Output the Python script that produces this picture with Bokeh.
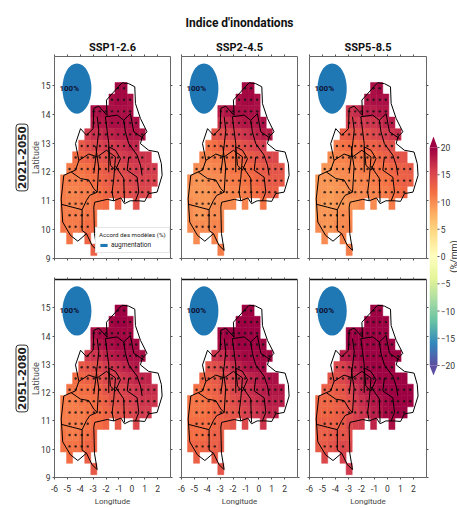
from bokeh.embed import file_html
from bokeh.resources import INLINE
from bokeh.plotting import figure
from bokeh.layouts import row, column
from bokeh.models import (LinearAxis, FixedTicker, Label, Legend, LegendItem, Title,
                          LinearColorMapper, ColumnDataSource)
from bokeh.core.properties import value
from bokeh.palettes import Spectral11, interp_palette
import numpy as np

NARROW = "Roboto"
_ = None
main_title = "Indice d'inondations"
scenarios = ["SSP1-2.6", "SSP2-4.5", "SSP5-8.5"]
periods = ["2021-2050", "2051-2080"]
x_ticks = [-6, -5, -4, -3, -2, -1, 0, 1, 2]
y_ticks = [9, 10, 11, 12, 13, 14, 15]
cb_ticks = [-20, -15, -10, -5, 0, 5, 10, 15, 20]

cell_lon = [-5.3, -4.83, -4.36, -3.89, -3.42, -2.95, -2.48, -2.01, -1.54, -1.07, -0.6, -0.13, 0.34, 0.81, 1.28, 1.75]
cell_lat = [14.9, 14.5, 14.1, 13.7, 13.3, 12.9, 12.5, 12.1, 11.7, 11.3, 10.9, 10.5, 10.1, 9.7, 9.3]

# rows run north to south, columns west to east
ssp126_2021 = [
 [_,_,_,_,_,_,_,_,_,19.5,19.5,_,_,_,_,_],
 [_,_,_,_,_,_,_,_,19,19.5,19.5,19,_,_,_,_],
 [_,_,_,_,_,19,19,19,19,19,19,19,_,_,_,_],
 [_,_,_,_,_,18,18.5,18.5,19,19,19,19,19,_,_,_],
 [_,_,_,_,16,17,17,17.5,17.5,18,18,18.5,18.5,18.5,_,_],
 [_,_,_,13.5,14.5,15,15.5,16,16,16.5,17,17.5,17.5,_,_,_],
 [_,_,12,12.5,13,13.5,14,14.5,15,15.5,16,16.5,16.5,16.5,16.5,_],
 [_,11,11.5,11.5,12,12.5,13,13.5,14,14.5,15,15.5,16,16,16,16],
 [11,11,11,11,11.5,12,12.5,13,13.5,14,14.5,15,15.5,15.5,15.5,15.5],
 [11,10.5,10.5,11,11,11.5,12,12.5,13,13.5,14,14.5,15,15,15,_],
 [11,10.5,10.5,11,11,11.5,11.5,12,_,13,_,_,14.5,_,_,_],
 [11,11,11,11,11.5,11.5,_,_,_,_,_,_,_,_,_,_],
 [11.5,11,11,11.5,12,12,_,_,_,_,_,_,_,_,_,_],
 [_,11.5,_,_,12.5,_,_,_,_,_,_,_,_,_,_,_],
 [_,_,_,_,_,13,_,_,_,_,_,_,_,_,_,_],
]
ssp245_2021 = [
 [_,_,_,_,_,_,_,_,_,19.5,19.5,_,_,_,_,_],
 [_,_,_,_,_,_,_,_,19,19.5,19.5,19,_,_,_,_],
 [_,_,_,_,_,18,18.5,19,19,19,19,19,_,_,_,_],
 [_,_,_,_,_,16.5,17,17.5,18,18.5,18.5,18.5,19,_,_,_],
 [_,_,_,_,14,14.5,15,15.5,16,16.5,17,17.5,18,18,_,_],
 [_,_,_,11.5,12,12.5,13,13.5,14,14.5,15,15.5,16,_,_,_],
 [_,_,10.5,10.5,11,11,11.5,12,12.5,13,13.5,14,14.5,15,15,_],
 [_,10,10,10,10.5,10.5,11,11.5,11.5,12,12.5,13,13.5,14,14,14],
 [10,9.5,9.5,10,10,10,10.5,11,11,11.5,12,12.5,13,13.5,13.5,13.5],
 [9.5,9.5,9.5,9.5,10,10,10,10.5,10.5,11,11.5,12,12.5,13,13,_],
 [10,9.5,9.5,9.5,10,10,10,10,_,10.5,_,_,11.5,_,_,_],
 [10,9.5,9.5,10,10,10,_,_,_,_,_,_,_,_,_,_],
 [10,10,10,10,10.5,10.5,_,_,_,_,_,_,_,_,_,_],
 [_,10,_,_,10.5,_,_,_,_,_,_,_,_,_,_,_],
 [_,_,_,_,_,11,_,_,_,_,_,_,_,_,_,_],
]
ssp585_2021 = [
 [_,_,_,_,_,_,_,_,_,19,19.5,_,_,_,_,_],
 [_,_,_,_,_,_,_,_,18.5,19,19,19,_,_,_,_],
 [_,_,_,_,_,16.5,17,17.5,18,18,18.5,18.5,_,_,_,_],
 [_,_,_,_,_,15.5,16,16,16.5,16.5,17,17.5,18,_,_,_],
 [_,_,_,_,13,13.5,14,14.5,14.5,15,15.5,16,16.5,17,_,_],
 [_,_,_,11,11.5,12,12,12.5,13,13,13.5,14,14.5,_,_,_],
 [_,_,10,10.5,10.5,11,11,11.5,11.5,12,12.5,13,13.5,14,14,_],
 [_,9.5,9.5,10,10,10.5,10.5,11,11,11.5,12,12,12.5,13,13,13.5],
 [9.5,9.5,9.5,9.5,10,10,10,10.5,10.5,11,11.5,11.5,12,12.5,13,13],
 [9.5,9.5,9,9.5,9.5,10,10,10,10.5,10.5,11,11,11.5,12,12.5,_],
 [9.5,9,9,9.5,9.5,9.5,9.5,10,_,10,_,_,11,_,_,_],
 [9.5,9.5,9.5,9.5,10,10,_,_,_,_,_,_,_,_,_,_],
 [10,9.5,9.5,10,10,10.5,_,_,_,_,_,_,_,_,_,_],
 [_,10,_,_,10.5,_,_,_,_,_,_,_,_,_,_,_],
 [_,_,_,_,_,11,_,_,_,_,_,_,_,_,_,_],
]
ssp126_2051 = [
 [_,_,_,_,_,_,_,_,_,20,20,_,_,_,_,_],
 [_,_,_,_,_,_,_,_,19.5,20,20,19.5,_,_,_,_],
 [_,_,_,_,_,19,19.5,19.5,19.5,19.5,19.5,19.5,_,_,_,_],
 [_,_,_,_,_,18,18.5,19,19,19.5,19.5,19.5,19.5,_,_,_],
 [_,_,_,_,16,16.5,17,17.5,18,18.5,19,19,19,19,_,_],
 [_,_,_,13.5,14,14.5,15,16,16.5,17,17.5,18,18.5,_,_,_],
 [_,_,12,12.5,13,13.5,14,15,15.5,16,16.5,17,17.5,17.5,17.5,_],
 [_,11.5,11.5,12,12,12.5,13,14,14.5,15,15.5,16,16.5,17,17,17],
 [11,11,11,11.5,11.5,12,12.5,13,14,14.5,15,15.5,16,16.5,16.5,16.5],
 [11,11,11,11,11.5,12,12,12.5,13,14,14.5,15,15.5,16,16,_],
 [11,11,11,11,11.5,12,12,12.5,_,13.5,_,_,15,_,_,_],
 [11.5,11,11,11.5,12,12.5,_,_,_,_,_,_,_,_,_,_],
 [11.5,11.5,11.5,12,12.5,12.5,_,_,_,_,_,_,_,_,_,_],
 [_,12,_,_,13,_,_,_,_,_,_,_,_,_,_,_],
 [_,_,_,_,_,13.5,_,_,_,_,_,_,_,_,_,_],
]
ssp245_2051 = [
 [_,_,_,_,_,_,_,_,_,20,20,_,_,_,_,_],
 [_,_,_,_,_,_,_,_,20,20,20,20,_,_,_,_],
 [_,_,_,_,_,19.5,20,20,20,20,20,20,_,_,_,_],
 [_,_,_,_,_,19,19.5,19.5,20,20,20,20,20,_,_,_],
 [_,_,_,_,16.5,17,17.5,18.5,19,19.5,19.5,19.5,19.5,19.5,_,_],
 [_,_,_,14,14.5,15,16,17,17.5,18.5,19,19,19.5,_,_,_],
 [_,_,12.5,13,13.5,14,15,15.5,16.5,17,17.5,18,18.5,19,19,_],
 [_,12,12,12.5,13,13.5,14,15,15.5,16.5,17,17.5,18,18.5,18.5,18.5],
 [11.5,11.5,11.5,12,12.5,13,13.5,14.5,15,16,16.5,17,17.5,18,18,18],
 [11.5,11.5,11.5,12,12.5,13,13.5,14,14.5,15.5,16,16.5,17,17.5,17.5,_],
 [12,12,12,12,12.5,13,13,14,_,15,_,_,16.5,_,_,_],
 [12,12,12,12.5,13,13,_,_,_,_,_,_,_,_,_,_],
 [12.5,12.5,12.5,13,13,13.5,_,_,_,_,_,_,_,_,_,_],
 [_,13,_,_,13.5,_,_,_,_,_,_,_,_,_,_,_],
 [_,_,_,_,_,14,_,_,_,_,_,_,_,_,_,_],
]
ssp585_2051 = [
 [_,_,_,_,_,_,_,_,_,20,20,_,_,_,_,_],
 [_,_,_,_,_,_,_,_,20,20,20,20,_,_,_,_],
 [_,_,_,_,_,20,20,20,20,20,20,20,_,_,_,_],
 [_,_,_,_,_,20,20,20,20,20,20,20,20,_,_,_],
 [_,_,_,_,18,18.5,19.5,20,20,20,20,20,20,20,_,_],
 [_,_,_,15,15.5,16.5,18,19,19.5,20,20,20,20,_,_,_],
 [_,_,14,14.5,15,16,17.5,18,19,19.5,20,20,20,20,20,_],
 [_,13,13,13.5,14,15,16.5,17.5,18,19,19.5,20,20,20,20,20],
 [12.5,12.5,12.5,13,13.5,14.5,16,17,17.5,18.5,19,19.5,20,20,20,20],
 [12.5,12.5,12.5,13,13.5,14.5,15.5,16.5,17,18,18.5,19.5,19.5,20,20,_],
 [13,13,13,13,13.5,15,15.5,16,_,17.5,_,_,19,_,_,_],
 [13,13,13.5,14,14,14.5,_,_,_,_,_,_,_,_,_,_],
 [13.5,13.5,14,14.5,15,15,_,_,_,_,_,_,_,_,_,_],
 [_,15,_,_,15.5,_,_,_,_,_,_,_,_,_,_,_],
 [_,_,_,_,_,16,_,_,_,_,_,_,_,_,_,_],
]
panels = [[ssp126_2021, ssp245_2021, ssp585_2021], [ssp126_2051, ssp245_2051, ssp585_2051]]

# columns holding a stippling dot in each row (north to south)
dot_columns = [
 [9,10],[8,9,10,11],[5,6,7,8,9,10,11],[5,6,7,8,9,10,11,12],[4,5,6,7,8,9,10,11,12,13],
 [3,4,5,6,7,8,9,10,11,12],[2,3,4,5,6,7,8,9,10,11,12,13],[1,2,3,4,5,6,7,8,9,10,11,12,13,14,15],
 [1,2,3,4,5,6,7,8,9,10,11,12,13,14,15],[1,2,3,4,5,6,7,8,9,10,11,12,13,14],[1,2,3,4],[1,2,3,4],[1,2,3,4],[],[],
]

border_lon = [-0.75,-0.24,0.23,0.28,0.67,1.18,0.8,0.67,1.31,2.04,2.29,2.35,1.96,1.31,1.0,0.54,-0.13,-0.57,-0.85,-1.4,-1.9,-2.88,-2.95,-2.9,-2.69,-3.08,-3.52,-4.19,-4.76,-5.36,-5.48,-5.28,-4.71,-4.37,-4.11,-4.37,-3.98,-3.52,-3.0,-2.95,-2.57,-1.92,-1.97,-1.01,-0.75]
border_lat = [15.09,15.06,14.95,14.37,13.85,13.39,13.21,12.98,12.75,12.69,12.29,11.88,11.3,11.25,10.98,11.0,11.0,10.9,11.1,11.0,11.05,10.95,10.78,9.86,9.28,9.45,9.86,9.6,9.8,10.26,11.07,11.88,12.0,12.06,12.4,12.98,13.5,13.27,13.5,14.2,14.28,13.96,14.49,14.97,15.09]
region_lons = [
 [-2.69,-2.56,-2.69,-2.82,-2.95],
 [-2.05,-1.14,-0.63,-0.11,0.15,0.92],
 [-2.05,-1.92,-1.79,-1.79,-1.79],
 [-0.63,-0.5,-0.24,0.41,0.67,0.8],
 [-1.79,-1.27,-0.88,-1.27,-1.66,-1.79],
 [-0.24,-0.36,0.41,0.54,0.28],
 [-1.27,-1.4,-1.53,-1.4],
 [-1.27,-0.63,-0.57],
 [-2.69,-2.57,-2.69,-2.8],
 [-5.48,-4.63,-3.86,-3.52,-3.26,-2.69],
 [-3.86,-3.86,-3.52],
 [-4.71,-3.98,-3.34,-2.95,-2.69],
 [-4.11,-3.34,-2.69,-1.97,-1.27],
]
region_lats = [
 [13.91,13.45,12.93,12.41,11.95],
 [13.91,13.97,13.79,14.02,13.39,13.16],
 [13.91,13.44,12.98,12.58,11.99],
 [13.79,13.39,12.98,12.58,12.23,11.88],
 [12.87,12.75,12.46,12.06,12.23,12.87],
 [12.52,12.06,11.82,11.3,11.0],
 [12.52,11.78,11.3,11.0],
 [12.2,11.78,10.95],
 [11.3,12.17,12.52,12.9],
 [10.88,10.78,10.69,11.01,11.19,11.3],
 [10.69,9.97,9.86],
 [12.0,11.77,11.72,11.42,11.3],
 [12.4,12.62,12.52,12.75,12.52],
]
pie_lon, pie_lat, pie_w, pie_h = -4.26, 14.89, 2.25, 1.74

palette = interp_palette(Spectral11, 256)
mapper = LinearColorMapper(palette=palette, low=-20, high=20)


def style_axis(ax, ticks, show_labels):
    ax.ticker = FixedTicker(ticks=ticks)
    ax.major_label_overrides = {t: str(t) for t in ticks}
    ax.minor_tick_line_color = None
    ax.major_tick_in = 0
    ax.major_tick_out = 2
    ax.major_tick_line_color = "#555555"
    ax.axis_line_color = "#666666"
    ax.major_label_standoff = 2 if show_labels else 0
    ax.major_label_text_font = NARROW
    ax.major_label_text_color = "#333333" if show_labels else None
    ax.major_label_text_font_size = "8.5px" if show_labels else "1px"
    ax.axis_label_text_font = NARROW
    ax.axis_label_text_font_style = "normal"
    ax.axis_label_text_color = "#444444"
    ax.axis_label_text_font_size = "8px"
    ax.axis_label_standoff = 2


def make_panel(r, c):
    left = 54 if c == 0 else 6
    right = 5 if c == 0 else (6 if c == 1 else 3)
    fw = 116 if c < 2 else 117
    top = 56 if r == 0 else 11
    bottom = 10 if r == 0 else 27
    p = figure(width=left + fw + right, height=top + 202 + bottom, x_range=(-6, 3), y_range=(9, 16),
               min_border_left=left, min_border_right=right, min_border_top=top, min_border_bottom=bottom,
               toolbar_location=None, output_backend="svg", outline_line_color=None,
               background_fill_color="white", border_fill_color=None)
    p.grid.visible = False
    style_axis(p.xaxis[0], x_ticks, r == 1)
    style_axis(p.yaxis[0], y_ticks, c == 0)
    if r == 1:
        p.xaxis[0].axis_label = "Longitude"
        p.xaxis[0].major_label_standoff = 5
    if c == 0:
        p.yaxis[0].axis_label = "Latitude"
        p.yaxis[0].axis_label_standoff = -3
        p.yaxis[0].axis_label_text_font = "DejaVu Sans"
    top_ax = LinearAxis()
    right_ax = LinearAxis()
    style_axis(top_ax, x_ticks, False)
    style_axis(right_ax, y_ticks, False)
    if r == 1:
        top_ax.axis_line_color = "#111111"
        top_ax.axis_line_width = 1.5
    p.add_layout(top_ax, "above")
    p.add_layout(right_ax, "right")

    grid = panels[r][c]
    xs, ys, vals = [], [], []
    for j, vrow in enumerate(grid):
        for i, v in enumerate(vrow):
            if v is not None:
                xs.append(cell_lon[i]); ys.append(cell_lat[j]); vals.append(v)
    src = ColumnDataSource(dict(x=xs, y=ys, v=vals))
    p.rect("x", "y", width=0.47, height=0.4, source=src,
           fill_color={"field": "v", "transform": mapper}, line_color={"field": "v", "transform": mapper}, line_width=0.5)

    dx = [cell_lon[i] for j, cols in enumerate(dot_columns) for i in cols]
    dy = [cell_lat[j] for j, cols in enumerate(dot_columns) for i in cols]
    p.scatter(dx, dy, size=2.4, color="#151515", line_color=None, alpha=0.85)

    p.multi_line(region_lons, region_lats, line_color="black", line_width=1)
    p.line(border_lon, border_lat, line_color="black", line_width=1)

    p.ellipse([pie_lon], [pie_lat], width=pie_w, height=pie_h, color="#1f77b4", line_color=None)
    p.add_layout(Label(x=-5.62, y=14.89, text="100%", text_font=NARROW, text_font_size="8px",
                       text_font_style="bold", text_color="#101030", text_baseline="middle"))

    if r == 0:
        p.add_layout(Title(text=scenarios[c], align="center", text_font=NARROW, text_font_style="bold",
                           text_font_size="11px", text_color="#111111", standoff=1), "above")
    if r == 0 and c == 1:
        p.add_layout(Title(text=main_title, align="center", text_font=NARROW, text_font_style="bold",
                           text_font_size="12px", text_color="#111111", standoff=18), "above")
    if c == 0:
        p.add_layout(Title(text=periods[r], align="center", text_font="DejaVu Sans", text_font_style="bold",
                           text_font_size="10.5px", text_color="#222222", standoff=1,
                           border_line_color="#333333", border_line_width=1, background_fill_color="white",
                           padding=2, border_radius=3), "left")
    if r == 0 and c == 0:
        lr = p.quad(left=[float("nan")], right=[float("nan")], top=[float("nan")], bottom=[float("nan")],
                    color="#1f77b4", line_color=None)
        lg = Legend(items=[LegendItem(label="augmentation", renderers=[lr])], title="Accord des modèles (%)",
                    location=(41, 5), orientation="horizontal",
                    title_text_font=NARROW, title_text_font_size="6.2px", title_text_font_style="normal",
                    title_text_color="#222222", title_standoff=2,
                    label_text_font=NARROW, label_text_font_size="6.5px", label_text_color="#222222",
                    glyph_width=9, glyph_height=4, label_height=5, label_standoff=3,
                    padding=3, margin=0, spacing=0, border_line_color="#cccccc",
                    background_fill_color="white", background_fill_alpha=1)
        p.add_layout(lg, "center")
    return p


rows = [row(*[make_panel(r, c) for c in range(3)], spacing=0) for r in range(2)]

# colour bar: frame runs across the whole strip, 8 px per x unit
cb = figure(width=28, height=508, x_range=(0, 3.5), y_range=(-21.83, 22.02),
            min_border_left=0, min_border_right=0, min_border_top=136, min_border_bottom=133,
            toolbar_location=None, output_backend="svg", outline_line_color=None,
            x_axis_location=None, y_axis_location=None, border_fill_color=None)
cb.grid.visible = False
gradient = np.linspace(-20, 20, 256).reshape(-1, 1)
cb.image(image=[gradient], x=0, y=-20, dw=1, dh=40, color_mapper=mapper)
cb.patch([0, 1, 0.5], [20, 20, 22.02], color=palette[-1], line_color=None)
cb.patch([0, 1, 0.5], [-20, -20, -21.83], color=palette[0], line_color=None)
cb.segment(x0=[1] * len(cb_ticks), x1=[1.25] * len(cb_ticks), y0=cb_ticks, y1=cb_ticks, line_color="#555555")
cb.text(x=[1.4] * len(cb_ticks), y=cb_ticks, text=[str(t).replace("-", "\u2212") for t in cb_ticks],
        text_font=value(NARROW), text_font_size="8.5px", text_color="#333333", text_baseline="middle")
cb.text(x=[3.0], y=[0], text=["(%/mm)"], angle=np.pi / 2, text_font=value(NARROW), text_font_size="9px",
        text_color="#333333", text_align="center", text_baseline="middle")

layout = row(column(*rows, spacing=0), cb, spacing=0)
open("out.html", "w").write(file_html(layout, INLINE))
